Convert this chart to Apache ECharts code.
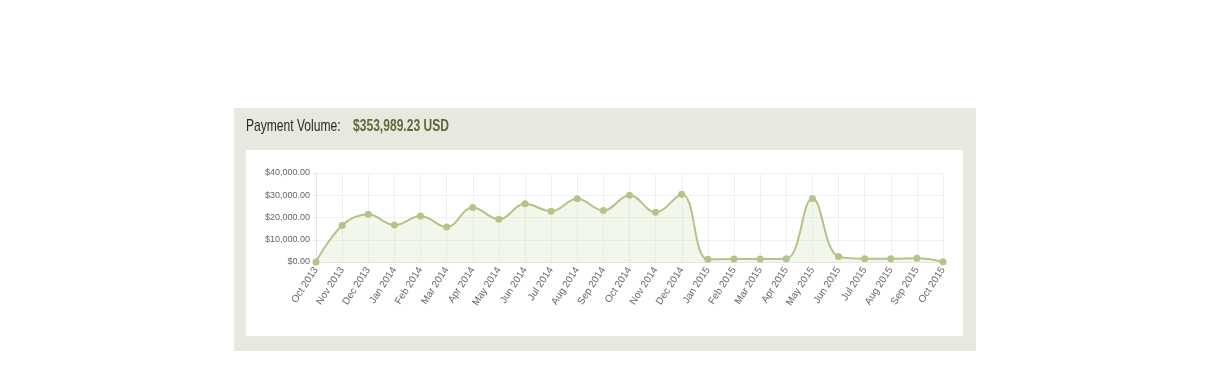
<!DOCTYPE html>
<html><head><meta charset="utf-8">
<script src="https://cdn.jsdelivr.net/npm/echarts@6/dist/echarts.min.js"></script>
<style>html,body{margin:0;padding:0;background:#fff}#c{width:1210px;height:387px}</style>
</head><body><div id="c"></div>
<script>
const categories = ["Oct 2013","Nov 2013","Dec 2013","Jan 2014","Feb 2014","Mar 2014","Apr 2014","May 2014","Jun 2014","Jul 2014","Aug 2014","Sep 2014","Oct 2014","Nov 2014","Dec 2014","Jan 2015","Feb 2015","Mar 2015","Apr 2015","May 2015","Jun 2015","Jul 2015","Aug 2015","Sep 2015","Oct 2015"];
const volumes = [0,16450,21430,16600,20690,15700,24460,19170,26130,22800,28380,23100,30040,22340,30490,1200,1360,1360,1500,28540,2420,1500,1500,1660,150];
const yTicks = [0,10000,20000,30000,40000];
const titleLabel = "Payment Volume:";
const titleValue = "$353,989.23 USD";

const chart = echarts.init(document.getElementById('c'), null, {renderer:'canvas'});
const fmt = v => '$' + v.toLocaleString('en-US',{minimumFractionDigits:2,maximumFractionDigits:2});
const tfont = "17px 'Liberation Sans', Arial, sans-serif";
chart.setOption({
  animation:false,
  graphic:[
    {type:'rect',silent:true,z:-10,shape:{x:234,y:108,width:742,height:243},style:{fill:'#e8e8e1'}},
    {type:'rect',silent:true,z:-9,shape:{x:246,y:150,width:717,height:186},style:{fill:'#ffffff'}},
    {type:'text',x:246,y:126.5,scaleX:0.71,style:{text:titleLabel,fill:'#2a2a2a',font:tfont,textVerticalAlign:'middle'}},
    {type:'text',x:353,y:126.5,scaleX:0.71,style:{text:titleValue,fill:'#5c6a38',font:"bold "+tfont,textVerticalAlign:'middle'}}
  ],
  grid:{left:316,right:267,top:173,bottom:125,containLabel:false},
  xAxis:{type:'category',data:categories,boundaryGap:false,
    axisLine:{lineStyle:{color:'#e4e4e4'}},axisTick:{show:false},
    axisLabel:{rotate:57,fontSize:10,color:'#666',fontFamily:'Liberation Sans, Arial, sans-serif',margin:6,interval:0},
    splitLine:{show:true,lineStyle:{color:'#f0f0f0'}}},
  yAxis:{type:'value',min:0,max:40000,interval:10000,
    axisLine:{show:true,lineStyle:{color:'#e4e4e4'}},axisTick:{show:true,length:3,lineStyle:{color:'#e8e8e8'}},
    axisLabel:{fontSize:9,color:'#666',fontFamily:'Liberation Sans, Arial, sans-serif',margin:6,formatter:fmt},
    splitLine:{lineStyle:{color:'#f0f0f0'}}},
  series:[{type:'line',data:volumes,smooth:0.4,symbol:'circle',symbolSize:7,
    lineStyle:{color:'#b3c488',width:2},itemStyle:{color:'#b3c488'},
    areaStyle:{color:'rgba(210,225,185,0.4)'}}]
});
</script></body></html>
